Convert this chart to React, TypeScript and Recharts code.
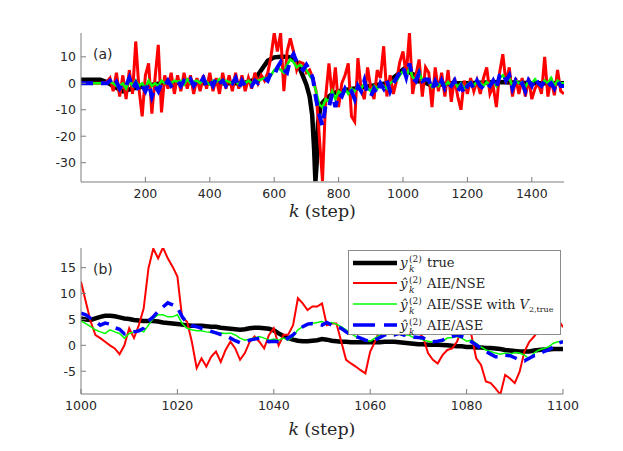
import { Legend, Line, LineChart, XAxis, YAxis } from "recharts";

// ---- panel (a): whole run, sampled every 10 steps ----
const K_TOP = Array.from({ length: 151 }, (_, i) => i * 10);

const RED_TOP = [
  0, 0, 0, 0, 0, 0, 0, 0, 0.5, 2,
  -3, 4, -5, 3, -6, 5, -4, 15.8, -2, -12.5,
  3, 7.5, -11.5, 2, 14.5, -11, 3, -2, 4, -4,
  3, -3, 4, -2, 3, -4, 2, -3, 3, -2,
  4, -3, 2, -4, 4, -2, 3, -3, 4, -2,
  3, -3, 2, -2, 4, 0, 3, 1, 4, 10,
  19, 12, 19, -3, 12, 17, 12, 5, 8, 7.5,
  4, 5, 2, -3, -20, -37, -5, 7.5, -5, 6,
  -9, 0, 3, 7.5, -12.5, -14.5, 9.5, -2.5, -6, 6,
  -2, -6, 5, 2, 14, -5, 3, -4, 1, 8,
  12, 3, 19, -4, 3, 9, -5, 6, 4, -9,
  6, -3, 4, -5, 5, -7, 2, -5, -10, 1,
  -4, 2, -3, 1, -4, 2, 6, -4, -1, -9,
  4, 11, 0, 6, -5, 2, -4, 2, -5, 2,
  -6, -2, 0, -4, 10, -5, 2, -4.5, 5, -3,
  -4,
];

const GREEN_TOP = [
  0, 0, 0, 0, 0, 0, 0, 0, 0, 0.5,
  0, -1, -1, 0, -2, 1, -1, 1, -1, 0,
  -2, 1, -1, 0, -1, 1, 0, 1, 0, 1,
  0.5, 1, -0.5, 1.5, 0, 0.5, 1, 0, 1.5, 0.5,
  -0.5, 1, 0.5, 1.5, 0, 1, 0.5, 0, 1, -0.5,
  1, 0, 1, 0, 1, 1, 1.5, 2, 2, 3,
  5, 6, 5, 4, 7, 9, 8, 6, 7, 6,
  5, 3, 1, -3, -8, -9, -6, -7, -3, -6,
  -3, -4, -2, -4, -2, -3, -1, -2, 0, -2,
  -3, -1, -2, 0, -1, -2, 0, 1, 1, 3,
  4.7, 2.3, 5.9, 2.3, 1.2, 4.6, 0.8, 1.5, 0.8, -1.4,
  0.8, -1, 1, -1, 0.5, -1, 1, -1.5, 0, -2,
  -0.5, 0.5, -1, 1, 0, -1, 0.5, -0.5, 1, -1,
  2, 3, 1, 2, -1, 1, 0, 0.5, -1.5, 1,
  0, 1.5, 0, -0.5, 1, 0, 2, -1, 1, 0,
  0,
];

const BLUE_TOP = [
  0, 0, 0, 0, 0, 0, 0, 0, 0, 1,
  -1, 0.5, -2, 0, -1, 2, -2, 0, -3, -1,
  -3, 0, -5, -1, -3, 0, -1, 1, -1, 0,
  1, -1, 1, 0, 1.5, -1, 1, 0, 2, -1,
  1, -1, 2, 0, 1, -1, 1, 0, 2, -2,
  1, -1, 0, -1, 1, 0, 1, 2, 1, 4,
  3, 6, 8, 5, 4, 9, 11, 8, 6, 5,
  7, 5, 2, -6, -12, -16, -8, -9, -4, -9,
  -4, -5, -2, -4, -3, -6, -1, -3, 1, -4,
  -5, -2, -4, 0, -2, 1, -3, 0, 2, 4,
  6.2, 2.3, 7.5, 2, 0.8, 3.9, 0.8, 1.5, 1.4, -2.4,
  0.7, -2, 1, -2, 0, -1, 1, -3, -1, -4,
  -1, 0, -2, 1, -1, -2, 0, -1, 1, -2,
  3, 4, 1, 3, -2, 1, -1, 0, -3, 1,
  -1, 2, 0, -1, 1, -1, 0, -2, 1, -1,
  -1,
];

// true output is smooth, so fewer points
const K_TRUE_TOP = [
  0, 60, 80, 100, 130, 160, 200, 250, 300, 400,
  500, 520, 540, 560, 580, 600, 620, 640, 660, 670,
  680, 690, 700, 710, 718, 724, 728, 732, 736, 745,
  760, 780, 800, 850, 900, 950, 980, 1000, 1006, 1020,
  1040, 1046, 1060, 1080, 1090, 1100, 1150, 1200, 1300, 1400,
  1500,
];
const TRUE_TOP = [
  1.3, 1.3, 0.5, -1, -3, -2, -1, 0, 0.3, 0,
  0, 0.5, 1.5, 5, 8.5, 9.8, 10, 10, 9.5, 8,
  5.5, 2.5, -0.5, -5, -12, -25, -37, -30, -15, -8,
  -6, -4, -3, -2, -1, 0, 3, 5.2, 5.7, 4.1,
  2.9, 0.8, 0.6, -0.3, -1.1, -0.7, 0, 0, 0.5, 0,
  0,
];

// ---- panel (b): zoom on k = 1000..1100 ----
const K_BOTTOM = Array.from({ length: 101 }, (_, i) => 1000 + i);

const TRUE_BOTTOM = [
  5.2, 5.0, 4.9, 5.2, 5.5, 5.7, 5.7, 5.6, 5.4, 5.2,
  5.1, 4.9, 4.8, 4.7, 4.7, 4.7, 4.6, 4.4, 4.3, 4.2,
  4.1, 4.0, 3.9, 3.8, 3.8, 3.8, 3.7, 3.6, 3.6, 3.4,
  3.3, 3.2, 3.1, 3.0, 3.1, 3.3, 3.4, 3.4, 3.3, 3.2,
  2.9, 2.3, 1.8, 1.4, 1.1, 0.9, 0.8, 0.8, 0.9, 1.0,
  1.2, 1.1, 0.9, 0.8, 0.7, 0.7, 0.6, 0.6, 0.6, 0.6,
  0.6, 0.6, 0.6, 0.7, 0.7, 0.7, 0.6, 0.5, 0.4, 0.3,
  0.2, 0.2, 0.1, 0.1, 0.1, 0.06, 0, -0.1, -0.2, -0.2,
  -0.3, -0.3, -0.4, -0.4, -0.5, -0.5, -0.6, -0.7, -0.9, -1.0,
  -1.1, -1.2, -1.2, -1.2, -1.0, -0.9, -0.8, -0.8, -0.7, -0.7,
  -0.7,
];

const RED_BOTTOM = [
  12.3, 8.4, 4.6, 2, 1.4, 0.7, 0, -0.6, -1.7, 0,
  3.3, 1.4, 3.9, 7.1, 14.9, 18.7, 16.8, 18.9, 16.8, 15.2,
  13.3, 5.2, 4.6, 0.7, -4.4, -2.5, -4.1, -2.2, -1.2, -3.2,
  -0.9, 0.7, -0.6, -2.8, -1.5, 0.7, 1.7, 0.7, -0.6, 2,
  3.3, 0, 2, 2.1, 3.9, 9.1, 8.1, 6.8, 7.5, 7.5,
  8.1, 3.9, 4.2, 4.2, 0.7, -2.8, -3.5, -4.1, -4.8, -5.4,
  -1.2, 0.7, 3, 5, 6, 5, 4, 5, 4, 3,
  2.5, 1.5, -1.5, -2.8, -3.5, -1.9, -0.9, -0.6, 0.7, 3,
  4, 2, -2.5, -3.8, -7, -7.3, -8.3, -9.5, -5.7, -6.4,
  -7.3, -5.1, -1.2, 0.7, 1.7, 3, 5, 6, 5, 5,
  3.5,
];

const GREEN_BOTTOM = [
  4.7, 4.2, 3.6, 3, 2.6, 2.3, 3, 2.6, 2.3, 1.4,
  2.3, 2.6, 3, 2.6, 3.9, 5.2, 5.9, 5.9, 5.5, 5.5,
  5.9, 4.2, 3.3, 3, 2.8, 2.8, 2.6, 2.5, 2.3, 2.4,
  2.3, 2.4, 2, 1.4, 1, 1.2, 1.4, 1.7, 1.4, 1,
  1.2, 1, 1.4, 1, 1.7, 3, 3.6, 3.9, 4.2, 4.4,
  4.6, 4.2, 4.4, 4.1, 3.6, 3, 2.3, 1.7, 1.2, 1,
  0.8, 1.4, 2, 2.5, 2.5, 2, 2.5, 2, 2, 1.5,
  1.5, 1, 0.8, 0.6, 0.6, 0.8, 1.4, 1.5, 1.7, 1.4,
  0.8, 1, 0.4, -0.3, -0.9, -1.2, -1.5, -1.7, -1.5, -1.7,
  -1.4, -1.5, -1.9, -2.6, -1.5, -0.9, -0.6, -0.3, 0.4, 0.7,
  0.8,
];

const BLUE_BOTTOM = [
  6.2, 5.9, 5.2, 4.6, 3.9, 4.3, 4.1, 3.4, 3.1, 2.2,
  2.4, 2.6, 2.8, 3.3, 4.7, 5.5, 6.6, 7.4, 8.2, 7.8,
  7.3, 5.5, 4.3, 3.8, 3.6, 3.3, 3.0, 2.7, 2.4, 2.1,
  1.9, 1.4, 0.9, 0.5, 0.7, 1, 1.2, 1.4, 1, 0.7,
  0.8, 0.7, 0.8, 1.4, 2, 3, 3.6, 4.1, 4.2, 4.1,
  3.9, 4.4, 3.9, 3.6, 3.3, 2.6, 2, 1.7, 1.4, 1,
  0.8, 1, 1.5, 2, 2.2, 2, 2.3, 2, 1.8, 1.6,
  1.5, 1.4, 1, 0.7, 0.8, 1, 1.4, 1.7, 2, 1.7,
  1.4, 0.7, 0.06, -0.6, -1.2, -1.7, -2.2, -2.2, -1.9, -2,
  -2.4, -2.8, -3, -2.5, -2, -1.9, -1.2, -0.9, -0.3, 0.4,
  0.7,
];

const TOP_X_TICKS = [200, 400, 600, 800, 1000, 1200, 1400];
const TOP_Y_TICKS = [-30, -20, -10, 0, 10];
const BOTTOM_X_TICKS = [1000, 1020, 1040, 1060, 1080, 1100];
const BOTTOM_Y_TICKS = [-5, 0, 5, 10, 15];

const topRows = K_TOP.map((k, i) => ({
  k,
  nse: RED_TOP[i],
  sse: GREEN_TOP[i],
  ase: BLUE_TOP[i],
}));
const topTrueRows = K_TRUE_TOP.map((k, i) => ({ k, truth: TRUE_TOP[i] }));
const bottomRows = K_BOTTOM.map((k, i) => ({
  k,
  truth: TRUE_BOTTOM[i],
  nse: RED_BOTTOM[i],
  sse: GREEN_BOTTOM[i],
  ase: BLUE_BOTTOM[i],
}));

const AXIS_COLOR = "#7d7d7d";
const TEXT_COLOR = "#262626";
const SANS = "DejaVu Sans";
const SERIF = "DejaVu Serif";
const TICK_LEN = 5;

// MATLAB-style ticks: marks point into the box
const BottomTick = (p: any) => (
  <g>
    <line x1={p.x} x2={p.x} y1={p.y} y2={p.y - TICK_LEN} stroke={AXIS_COLOR} />
    <text
      x={p.x}
      y={p.y + 16}
      textAnchor="middle"
      fontFamily={SANS}
      fontSize={12.5}
      fill={TEXT_COLOR}
    >
      {p.payload.value}
    </text>
  </g>
);
const LeftTick = (p: any) => (
  <g>
    <line x1={p.x} x2={p.x + TICK_LEN} y1={p.y} y2={p.y} stroke={AXIS_COLOR} />
    <text
      x={p.x - 5}
      y={p.y + 4.5}
      textAnchor="end"
      fontFamily={SANS}
      fontSize={12.5}
      fill={TEXT_COLOR}
    >
      {p.payload.value}
    </text>
  </g>
);
const TopTick = (p: any) => (
  <line x1={p.x} x2={p.x} y1={p.y} y2={p.y + TICK_LEN} stroke={AXIS_COLOR} />
);
const RightTick = (p: any) => (
  <line x1={p.x} x2={p.x - TICK_LEN} y1={p.y} y2={p.y} stroke={AXIS_COLOR} />
);

const xLabel = (dy: number) => (props: any) => {
  const vb = props.viewBox ?? { x: 81, y: 182, width: 483 };
  return (
    <text
      x={vb.x + vb.width / 2}
      y={vb.y + dy}
      textAnchor="middle"
      fontFamily={SERIF}
      fontSize={17.5}
      fill={TEXT_COLOR}
    >
      <tspan fontStyle="italic">k</tspan>
      <tspan dx={5}>(step)</tspan>
    </text>
  );
};

const PanelTag = ({ name }: { name: string }) => (
  <text x={12} y={26} fontFamily={SANS} fontSize={14} fill={TEXT_COLOR}>
    {name}
  </text>
);

const LEGEND_ROWS = [
  { label: "true", hat: false, color: "#000000", width: 4.5, dash: undefined, lineY: 13, base: 17.3 },
  { label: "AIE/NSE", hat: true, color: "#ff0000", width: 2, dash: undefined, lineY: 33, base: 38 },
  { label: "AIE/SSE with", hat: true, color: "#00ff00", width: 1.5, dash: undefined, lineY: 54, base: 59 },
  { label: "AIE/ASE", hat: true, color: "#0000ff", width: 3.5, dash: "22 9", lineY: 75, base: 79.7 },
];

// legend box sits at (348, 250) on the page; overlay origin is the plot corner (81, 248)
const LEGEND_X = 267;
const LEGEND_Y = 2;

const TopOverlay = () => (
  <svg width={482} height={40} style={{ display: "block", overflow: "visible" }}>
    <PanelTag name="(a)" />
  </svg>
);

const BottomOverlay = () => (
  <svg width={482} height={92} style={{ display: "block", overflow: "visible" }}>
    <PanelTag name="(b)" />
    <g transform={`translate(${LEGEND_X},${LEGEND_Y})`}>
      <rect x={0.5} y={0.5} width={212} height={84} fill="#ffffff" stroke="#8c8c8c" />
      {LEGEND_ROWS.map((r, i) => (
        <g key={r.label} fontFamily={SERIF} fill={TEXT_COLOR}>
          <line
            x1={5}
            x2={49}
            y1={r.lineY}
            y2={r.lineY}
            stroke={r.color}
            strokeWidth={r.width}
            strokeDasharray={r.dash}
          />
          <text x={52} y={r.base} fontSize={13.5} fontStyle="italic">
            {r.hat ? "ŷ" : "y"}
          </text>
          <text x={61} y={r.base - 5} fontSize={9}>
            (2)
          </text>
          <text x={61} y={r.base + 5} fontSize={9} fontStyle="italic">
            k
          </text>
          <text x={79} y={r.base} fontSize={13}>
            {r.label}
            {i === 2 && (
              <>
                <tspan dx={4} fontStyle="italic">
                  V
                </tspan>
                <tspan fontSize={8} dy={3}>
                  2,true
                </tspan>
              </>
            )}
          </text>
        </g>
      ))}
    </g>
  </svg>
);

const App = () => {
  return (
    <div
      style={{
        position: "absolute",
        left: 0,
        top: 0,
        width: 623,
        height: 451,
        background: "#ffffff",
      }}
    >
      <div style={{ position: "absolute", left: 0, top: 0 }}>
        <LineChart
          width={623}
          height={226}
          data={topRows}
          margin={{ top: 33, right: 59, bottom: 0, left: 0 }}
        >
          <XAxis
            dataKey="k"
            type="number"
            domain={[0, 1500]}
            ticks={TOP_X_TICKS}
            interval={0}
            allowDataOverflow
            height={44}
            tickSize={0}
            tickMargin={0}
            tickLine={false}
            tick={BottomTick}
            axisLine={{ stroke: AXIS_COLOR }}
            label={xLabel(35)}
          />
          <XAxis
            xAxisId="top"
            orientation="top"
            type="number"
            domain={[0, 1500]}
            ticks={TOP_X_TICKS}
            interval={0}
            allowDataOverflow
            height={0}
            tickSize={0}
            tickMargin={0}
            tickLine={false}
            tick={TopTick}
            axisLine={{ stroke: AXIS_COLOR }}
          />
          <YAxis
            type="number"
            domain={[-37.3, 19]}
            ticks={TOP_Y_TICKS}
            interval={0}
            allowDataOverflow
            width={81}
            tickSize={0}
            tickMargin={0}
            tickLine={false}
            tick={LeftTick}
            axisLine={{ stroke: AXIS_COLOR }}
          />
          <YAxis
            yAxisId="right"
            orientation="right"
            type="number"
            domain={[-37.3, 19]}
            ticks={TOP_Y_TICKS}
            interval={0}
            allowDataOverflow
            width={0}
            tickSize={0}
            tickMargin={0}
            tickLine={false}
            tick={RightTick}
            axisLine={{ stroke: AXIS_COLOR }}
          />
          <Line
            data={topTrueRows}
            dataKey="truth"
            stroke="#000000"
            strokeWidth={4.5}
            dot={false}
            isAnimationActive={false}
          />
          <Line
            dataKey="nse"
            stroke="#ff0000"
            strokeWidth={3}
            dot={false}
            isAnimationActive={false}
          />
          <Line
            dataKey="sse"
            stroke="#00ff00"
            strokeWidth={2.5}
            dot={false}
            isAnimationActive={false}
          />
          <Line
            dataKey="ase"
            stroke="#0000ff"
            strokeWidth={4}
            strokeDasharray="12 8"
            dot={false}
            isAnimationActive={false}
          />
          <Legend
            layout="vertical"
            align="center"
            verticalAlign="middle"
            content={() => <TopOverlay />}
            wrapperStyle={{ left: 81, top: 33, width: 482, height: 40 }}
          />
        </LineChart>
      </div>

      <div style={{ position: "absolute", left: 0, top: 226 }}>
        <LineChart
          width={623}
          height={225}
          data={bottomRows}
          margin={{ top: 22, right: 60, bottom: 0, left: 0 }}
        >
          <XAxis
            dataKey="k"
            type="number"
            domain={[1000, 1100]}
            ticks={BOTTOM_X_TICKS}
            interval={0}
            allowDataOverflow
            height={57}
            tickSize={0}
            tickMargin={0}
            tickLine={false}
            tick={BottomTick}
            axisLine={{ stroke: AXIS_COLOR }}
            label={xLabel(41)}
          />
          <XAxis
            xAxisId="top"
            orientation="top"
            type="number"
            domain={[1000, 1100]}
            ticks={BOTTOM_X_TICKS}
            interval={0}
            allowDataOverflow
            height={0}
            tickSize={0}
            tickMargin={0}
            tickLine={false}
            tick={TopTick}
            axisLine={{ stroke: AXIS_COLOR }}
          />
          <YAxis
            type="number"
            domain={[-9.4, 18.8]}
            ticks={BOTTOM_Y_TICKS}
            interval={0}
            allowDataOverflow
            width={81}
            tickSize={0}
            tickMargin={0}
            tickLine={false}
            tick={LeftTick}
            axisLine={{ stroke: AXIS_COLOR }}
          />
          <YAxis
            yAxisId="right"
            orientation="right"
            type="number"
            domain={[-9.4, 18.8]}
            ticks={BOTTOM_Y_TICKS}
            interval={0}
            allowDataOverflow
            width={0}
            tickSize={0}
            tickMargin={0}
            tickLine={false}
            tick={RightTick}
            axisLine={{ stroke: AXIS_COLOR }}
          />
          <Line
            dataKey="truth"
            stroke="#000000"
            strokeWidth={4.5}
            dot={false}
            isAnimationActive={false}
          />
          <Line
            dataKey="nse"
            stroke="#ff0000"
            strokeWidth={2}
            dot={false}
            isAnimationActive={false}
          />
          <Line
            dataKey="sse"
            stroke="#00ff00"
            strokeWidth={1.5}
            dot={false}
            isAnimationActive={false}
          />
          <Line
            dataKey="ase"
            stroke="#0000ff"
            strokeWidth={3.5}
            strokeDasharray="12 8"
            dot={false}
            isAnimationActive={false}
          />
          <Legend
            layout="vertical"
            align="center"
            verticalAlign="middle"
            content={() => <BottomOverlay />}
            wrapperStyle={{ left: 81, top: 22, width: 482, height: 92 }}
          />
        </LineChart>
      </div>
    </div>
  );
};

export default App;
